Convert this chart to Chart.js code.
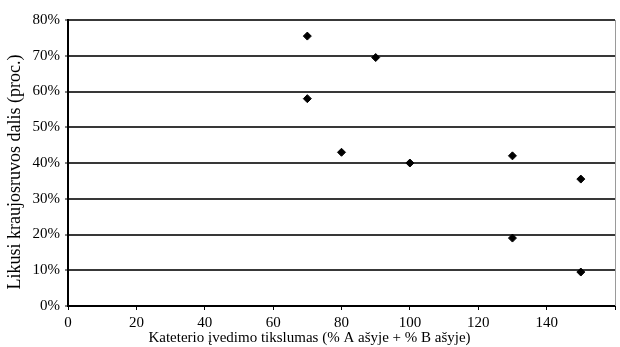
<!DOCTYPE html>
<html>
<head>
<meta charset="utf-8">
<script src="https://cdn.jsdelivr.net/npm/chart.js@4"></script>
<style>
  html, body { margin: 0; padding: 0; background: #fff; }
  #wrap { width: 620px; height: 347px; }
</style>
</head>
<body>
<div id="wrap"><canvas id="chart"></canvas></div>
<script>
// catheter placement accuracy vs. residual hematoma share
const xValues = [70, 90, 70, 80, 100, 130, 150, 130, 150];
const yValues = [75.5, 69.5, 58, 43, 40, 42, 35.5, 19, 9.5];
const xTicks = [0, 20, 40, 60, 80, 100, 120, 140];
const yTicks = [0, 10, 20, 30, 40, 50, 60, 70, 80];

const xTitle = 'Kateterio įvedimo tikslumas (% A ašyje + % B ašyje)';
const yTitle = 'Likusi kraujosruvos dalis (proc.)';

const serif = 'Liberation Serif';

// light border on the right of the plot + rotated y title (sits a bit low in the original)
const extras = {
    id: 'extras',
    afterDraw(chart) {
        const { ctx, chartArea } = chart;
        ctx.save();
        ctx.strokeStyle = '#9a9a9a';
        ctx.lineWidth = 1;
        ctx.beginPath();
        ctx.moveTo(chartArea.right + 0.5, chartArea.top);
        ctx.lineTo(chartArea.right + 0.5, chartArea.bottom);
        ctx.stroke();

        ctx.translate(15, 172);
        ctx.rotate(-Math.PI / 2);
        ctx.fillStyle = '#000';
        ctx.font = '18px "' + serif + '"';
        ctx.textAlign = 'center';
        ctx.textBaseline = 'middle';
        ctx.fillText(yTitle, 0, 0);
        ctx.restore();
    }
};

const points = xValues.map((x, i) => ({ x: x, y: yValues[i] }));

new Chart(document.getElementById('chart'), {
    type: 'scatter',
    data: {
        datasets: [{
            data: points,
            pointStyle: 'rectRot',
            pointRadius: 4,
            backgroundColor: '#000',
            borderColor: '#000',
            borderWidth: 1
        }]
    },
    options: {
        responsive: true,
        maintainAspectRatio: false,
        animation: false,
        layout: { padding: { top: 20, right: 1, left: 0, bottom: 0 } },
        plugins: {
            legend: { display: false },
            tooltip: { enabled: false },
            title: {
                display: true,
                position: 'bottom',
                text: xTitle,
                color: '#000',
                font: { family: serif, size: 15, weight: 'normal' },
                padding: 0
            }
        },
        scales: {
            x: {
                type: 'linear',
                min: 0,
                max: 160,
                afterBuildTicks: s => { s.ticks = xTicks.concat([160]).map(v => ({ value: v })); },
                afterFit: s => { s.height = 23; },
                grid: { drawOnChartArea: false, drawTicks: true, tickLength: 4, tickColor: '#000', tickWidth: 1 },
                border: { color: '#000', width: 2 },
                ticks: {
                    color: '#000',
                    padding: 4,
                    maxRotation: 0,
                    font: { family: serif, size: 15 },
                    callback: v => (v === 160 ? '' : v)
                }
            },
            y: {
                min: 0,
                max: 80,
                afterBuildTicks: s => { s.ticks = yTicks.map(v => ({ value: v })); },
                afterFit: s => { s.width = 68; },
                grid: { color: '#383838', lineWidth: 2, drawTicks: true, tickLength: 3, tickColor: '#000', tickWidth: 1 },
                border: { color: '#000', width: 2 },
                ticks: {
                    color: '#000',
                    padding: 5,
                    font: { family: serif, size: 15 },
                    callback: v => v + '%'
                }
            }
        }
    },
    plugins: [extras]
});
</script>
</body>
</html>
